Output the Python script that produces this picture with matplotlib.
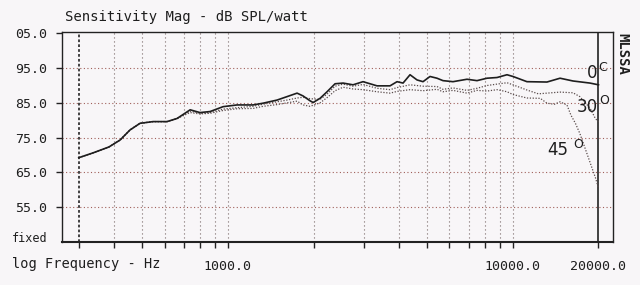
import matplotlib
matplotlib.use("Agg")
import matplotlib.pyplot as plt
from matplotlib.ticker import FixedLocator, NullFormatter

# ---------------- data ----------------
freq_0 = [300, 337, 383, 419, 454, 492, 547, 612, 664, 738, 799, 867, 963, 1078,
          1227, 1330, 1489, 1615, 1751, 1837, 1944, 1993, 2108, 2231, 2380, 2539,
          2752, 2984, 3341, 3711, 3927, 4123, 4362, 4616, 4845, 5126, 5424, 5693,
          6172, 6912, 7494, 8124, 8810, 9550, 10020, 11220, 13190, 14660, 16280,
          18670, 20000]
spl_0 = [69.2, 70.6, 72.3, 74.3, 77.2, 79.1, 79.6, 79.6, 80.5, 83.0, 82.2, 82.5,
         83.9, 84.4, 84.4, 84.9, 85.8, 86.8, 87.8, 87.0, 85.6, 85.1, 86.3, 88.2,
         90.5, 90.7, 90.2, 91.1, 89.9, 89.9, 91.1, 90.7, 93.1, 91.6, 91.1, 92.6,
         92.1, 91.4, 91.1, 91.8, 91.4, 92.1, 92.3, 93.1, 92.6, 91.1, 91.0, 92.1,
         91.3, 90.7, 90.2]

freq_30 = [300, 337, 383, 419, 454, 492, 547, 612, 664, 738, 799, 867, 963, 1078,
           1227, 1330, 1489, 1615, 1751, 1837, 1944, 2108, 2231, 2380, 2539, 2752,
           2984, 3341, 3711, 3927, 4362, 4845, 5424, 5693, 6172, 6912, 7494, 8124,
           8810, 9550, 10020, 11220, 12300, 13190, 14660, 16280, 17200, 18670,
           19500, 20000]
spl_30 = [69.2, 70.6, 72.3, 74.3, 77.2, 79.1, 79.6, 79.6, 80.5, 82.6, 82.0, 82.2,
          83.2, 83.6, 84.0, 84.6, 85.3, 85.8, 86.4, 86.6, 86.2, 86.0, 87.5, 89.8,
          90.4, 89.8, 90.3, 89.2, 88.8, 89.4, 90.2, 89.8, 89.7, 88.9, 89.3, 88.6,
          89.2, 90.0, 90.4, 90.8, 90.2, 88.7, 87.6, 87.8, 88.1, 87.9, 86.8, 83.5,
          80.5, 79.5]

freq_45 = [300, 337, 383, 419, 454, 492, 547, 612, 664, 738, 799, 867, 963, 1078,
           1227, 1330, 1489, 1615, 1751, 1837, 1944, 2108, 2231, 2380, 2539, 2752,
           2984, 3341, 3711, 3927, 4362, 4845, 5424, 5693, 6172, 6912, 7494, 8124,
           8810, 9550, 10020, 11220, 12500, 13190, 14000, 14660, 15500, 16000,
           16600, 17200, 18400, 19500, 20000]
spl_45 = [69.2, 70.6, 72.3, 74.3, 77.2, 79.1, 79.6, 79.6, 80.5, 82.2, 81.8, 82.0,
          82.8, 83.3, 83.4, 84.0, 84.5, 85.0, 85.5, 84.4, 84.0, 85.0, 86.5, 88.5,
          89.5, 89.0, 88.8, 88.2, 87.8, 88.3, 88.8, 88.5, 88.9, 88.2, 88.6, 87.8,
          88.6, 88.4, 88.8, 88.2, 87.4, 86.4, 86.3, 84.9, 84.6, 85.3, 84.4, 81.5,
          79.1, 76.2, 69.4, 63.5, 60.5]

y_ticks = [55, 65, 75, 85, 95, 105]
y_labels = ["55.0", "65.0", "75.0", "85.0", "95.0", "05.0"]
x_ticks = [300, 400, 500, 600, 700, 800, 900, 1000,
           2000, 3000, 4000, 5000, 6000, 7000, 8000, 9000, 10000, 20000]
x_labels = {1000: "1000.0", 10000: "10000.0", 20000: "20000.0"}

title = "Sensitivity Mag - dB SPL/watt"
xlabel = "log Frequency - Hz"

# ---------------- figure ----------------
W, H = 640, 285
bg = "#f8f6f8"
fig = plt.figure(figsize=(W / 100, H / 100), dpi=100, facecolor=bg)
L, R, T, B = 62, 613, 31.7, 241.7
ax = fig.add_axes([L / W, 1 - B / H, (R - L) / W, (B - T) / H], facecolor=bg)

mono = "DejaVu Sans Mono"
ink = "#1e1e1e"
grid_red = "#a0605a"
grid_v = "#7a6a6a"

ax.set_xscale("log")
ax.set_xlim(262, 22490)
ax.set_ylim(45, 105.5)

# grid
for yv in y_ticks[:-1]:
    ax.axhline(yv, color=grid_red, lw=0.8, ls=(0, (1, 2.2)), zorder=1)
for xv in x_ticks:
    if xv == 300:
        ax.axvline(xv, color="#333", lw=1.3, ls=(0, (1.5, 1.2)), zorder=1)
    elif xv == 20000:
        ax.axvline(xv, color="#111", lw=1.1, zorder=1)
    else:
        ax.axvline(xv, color=grid_v, lw=0.8, ls=(0, (1, 2.6)), zorder=1)

# curves
ax.plot(freq_45, spl_45, color="#5a4c4c", lw=0.9, ls=(0, (1, 1.3)), zorder=3)
ax.plot(freq_30, spl_30, color="#5a4c4c", lw=0.9, ls=(0, (1, 1.3)), zorder=3)
ax.plot(freq_0, spl_0, color=ink, lw=1.2, zorder=4)

# axes styling
for s in ax.spines.values():
    s.set_color("#222")
    s.set_linewidth(1.0)
ax.spines["bottom"].set_linewidth(1.5)

ax.xaxis.set_minor_formatter(NullFormatter())
ax.xaxis.set_minor_locator(FixedLocator([]))
ax.set_xticks(x_ticks)
ax.set_xticklabels([x_labels.get(v, "") for v in x_ticks])
ax.set_yticks(y_ticks)
ax.set_yticklabels(y_labels)
ax.tick_params(axis="x", direction="out", length=4, width=1, color="#222",
               pad=9, labelsize=9.5, labelcolor=ink)
ax.tick_params(axis="y", direction="out", length=4, width=1, color="#222",
               pad=7, labelsize=9.5, labelcolor=ink)
for t in ax.get_xticklabels() + ax.get_yticklabels():
    t.set_family(mono)


def fx(x):
    return x / W


def fy(y):
    return 1 - y / H


fig.text(fx(65), fy(17), title, family=mono, fontsize=10, color=ink,
         ha="left", va="center")
fig.text(fx(12), fy(264), xlabel, family=mono, fontsize=9.8, color=ink,
         ha="left", va="center")
fig.text(fx(12), fy(238), "fixed", family=mono, fontsize=8.5, color=ink,
         ha="left", va="center")
fig.text(fx(622), fy(54), "MLSSA", family=mono, fontsize=10, color=ink,
         ha="center", va="center", rotation=-90, fontweight="bold")

lab = dict(family="DejaVu Sans", color=ink, ha="center", va="center")
fig.text(fx(592), fy(73), "0", fontsize=12, **lab)
fig.text(fx(603), fy(67), "C", fontsize=9, **lab)
fig.text(fx(587), fy(107), "30", fontsize=12, **lab)
fig.text(fx(604), fy(101), "O", fontsize=9, **lab)
fig.text(fx(558), fy(150), "45", fontsize=12, **lab)
fig.text(fx(578), fy(144), "O", fontsize=9, **lab)

fig.savefig("out.png", dpi=100, facecolor=bg)
